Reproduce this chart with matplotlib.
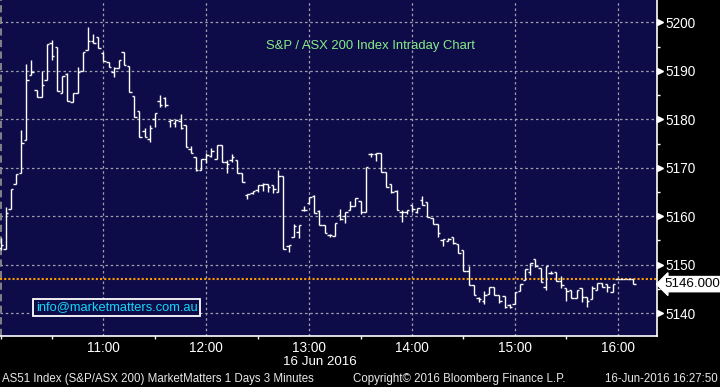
import numpy as np
import matplotlib
matplotlib.use("Agg")
import matplotlib.pyplot as plt
from matplotlib.ticker import MultipleLocator

# 3-minute OHLC bars for AS51, 16 Jun 2016, starting 10:00
opens = [5153.5, 5153.2, 5161.4, 5166.6, 5168.9, 5175.7, 5189.1, 5186.0, 5184.6, 5188.0,
         5195.7, 5195.0, 5185.5, 5189.3, 5183.6, 5185.4, 5190.0, 5194.3, 5196.2, 5196.9,
         5193.6, 5191.8, 5189.8, 5190.5, 5193.8, 5190.9, 5184.9, 5181.8, 5177.6, 5175.9,
         5180.0, 5183.8, 5184.4, 5179.6, 5179.2, 5179.6, 5178.8, 5173.8, 5172.2, 5169.5,
         5171.9, 5172.4, 5171.8, 5174.7, 5171.1, 5171.5, 5171.6, 5168.9, 5164.3, 5164.8,
         5165.5, 5166.4, 5166.7, 5166.5, 5164.9, 5168.2, 5153.9, 5155.8, 5156.8, 5161.3,
         5162.8, 5164.2, 5161.0, 5158.2, 5156.1, 5156.0, 5160.3, 5160.0, 5161.3, 5162.1,
         5163.2, 5160.9, 5172.9, 5172.9, 5173.1, 5169.1, 5166.6, 5165.3, 5160.9, 5160.8,
         5162.3, 5160.9, 5163.3, 5162.9, 5159.6, 5158.4, 5155.0, 5154.9, 5155.7, 5154.3,
         5153.0, 5148.7, 5145.8, 5143.2, 5142.6, 5144.0, 5145.4, 5143.8, 5143.6, 5141.6,
         5141.9, 5144.6, 5146.9, 5148.4, 5151.1, 5149.3, 5145.4, 5148.3, 5148.4, 5146.7,
         5145.2, 5144.7, 5143.1, 5145.2, 5143.3, 5142.9, 5144.7, 5146.2, 5146.0, 5144.3,
         5147.0, 5147.0, 5147.0, 5147.0]
highs = [5155.5, 5161.9, 5165.6, 5168.7, 5177.8, 5191.5, 5192.2, 5186.0, 5190.0, 5195.5,
         5196.4, 5195.0, 5188.9, 5189.5, 5185.4, 5190.7, 5193.9, 5199.1, 5197.6, 5196.9,
         5193.8, 5191.8, 5190.7, 5192.2, 5193.8, 5190.9, 5184.9, 5181.8, 5178.1, 5178.8,
         5181.2, 5185.0, 5184.5, 5179.9, 5179.9, 5181.0, 5178.8, 5174.5, 5172.2, 5171.8,
         5173.0, 5174.1, 5174.7, 5174.7, 5171.5, 5172.8, 5171.6, 5168.9, 5164.5, 5165.3,
         5166.4, 5166.9, 5166.7, 5166.5, 5169.5, 5168.2, 5154.1, 5158.4, 5158.2, 5162.1,
         5164.0, 5164.4, 5161.3, 5158.2, 5156.3, 5158.6, 5161.4, 5160.9, 5163.2, 5163.7,
         5163.2, 5170.1, 5173.0, 5173.1, 5173.1, 5169.1, 5166.6, 5165.4, 5161.2, 5161.2,
         5162.3, 5161.6, 5164.2, 5162.9, 5159.6, 5158.4, 5155.3, 5155.5, 5155.7, 5154.3,
         5153.0, 5149.8, 5145.8, 5143.4, 5144.5, 5145.4, 5145.4, 5143.8, 5143.6, 5141.8,
         5144.4, 5146.0, 5149.1, 5150.4, 5151.1, 5149.3, 5149.8, 5148.8, 5148.4, 5147.7,
         5145.2, 5144.7, 5144.7, 5145.2, 5143.3, 5145.6, 5146.2, 5146.2, 5146.0, 5146.0,
         5147.0, 5147.0, 5147.0, 5147.0]
lows = [5153.0, 5153.2, 5161.4, 5166.6, 5168.9, 5175.7, 5189.1, 5184.5, 5184.6, 5188.0,
        5192.2, 5185.9, 5185.5, 5183.8, 5183.6, 5185.4, 5190.0, 5194.3, 5195.8, 5194.6,
        5192.1, 5190.7, 5188.8, 5190.5, 5191.1, 5185.6, 5180.5, 5176.3, 5176.4, 5175.4,
        5178.5, 5182.6, 5182.6, 5178.5, 5178.4, 5177.9, 5174.2, 5173.0, 5169.4, 5169.5,
        5170.9, 5172.3, 5171.8, 5171.1, 5169.0, 5171.1, 5169.0, 5167.1, 5163.6, 5164.6,
        5165.1, 5165.3, 5164.9, 5164.7, 5164.9, 5153.3, 5152.6, 5155.8, 5155.5, 5161.0,
        5162.8, 5160.7, 5158.2, 5156.5, 5155.8, 5156.0, 5159.2, 5158.6, 5161.3, 5162.1,
        5160.5, 5160.9, 5172.2, 5171.3, 5169.1, 5166.1, 5164.7, 5161.2, 5158.9, 5160.5,
        5160.9, 5160.6, 5162.3, 5159.9, 5158.4, 5155.8, 5153.9, 5154.8, 5154.3, 5152.5,
        5148.7, 5145.8, 5143.8, 5142.4, 5141.9, 5144.0, 5143.8, 5142.2, 5141.0, 5141.0,
        5141.9, 5144.5, 5146.9, 5147.9, 5149.5, 5146.4, 5144.8, 5148.1, 5146.7, 5145.2,
        5142.6, 5143.1, 5143.1, 5142.4, 5141.3, 5142.9, 5144.7, 5145.4, 5144.3, 5144.3,
        5147.0, 5147.0, 5147.0, 5146.0]
closes = [5154.0, 5160.7, 5165.6, 5168.7, 5175.1, 5188.1, 5189.7, 5184.5, 5187.0, 5195.5,
          5193.1, 5185.9, 5188.9, 5183.8, 5185.4, 5189.8, 5193.9, 5196.2, 5195.8, 5194.6,
          5192.1, 5190.7, 5190.5, 5192.2, 5191.1, 5185.6, 5180.5, 5176.3, 5176.4, 5178.3,
          5181.2, 5182.9, 5182.9, 5179.9, 5179.9, 5178.1, 5174.2, 5173.0, 5169.5, 5171.8,
          5172.6, 5173.5, 5174.7, 5171.1, 5170.7, 5172.2, 5169.0, 5167.1, 5164.5, 5165.2,
          5166.4, 5166.7, 5166.1, 5165.6, 5168.2, 5153.3, 5154.0, 5157.9, 5158.2, 5161.3,
          5164.0, 5160.7, 5158.2, 5156.5, 5156.1, 5158.6, 5159.5, 5160.9, 5162.1, 5163.7,
          5160.9, 5170.1, 5172.9, 5173.1, 5169.1, 5166.1, 5165.1, 5161.2, 5160.9, 5161.2,
          5161.5, 5161.6, 5162.3, 5159.9, 5158.4, 5156.5, 5155.3, 5155.4, 5154.4, 5152.5,
          5148.7, 5145.8, 5143.8, 5142.9, 5143.8, 5145.4, 5143.8, 5142.5, 5141.2, 5141.2,
          5144.4, 5146.0, 5149.1, 5150.4, 5149.7, 5146.4, 5149.8, 5148.3, 5146.7, 5145.8,
          5144.6, 5143.1, 5144.7, 5143.3, 5142.6, 5145.2, 5146.2, 5145.4, 5145.4, 5146.0,
          5147.0, 5147.0, 5147.0, 5146.0]

bar_minutes = 3
hour_pos = [60, 120, 180, 240, 300, 360]   # minutes after 10:00
hour_labels = ["11:00", "12:00", "13:00", "14:00", "15:00", "16:00"]
price_ticks = [5140, 5150, 5160, 5170, 5180, 5190, 5200]
last_price = 5146.0
ref_level = 5147.0

bg = "#0e0c48"
plt.rcParams["font.family"] = "Liberation Sans"

t = np.arange(len(opens)) * bar_minutes
tick = 1.46  # width of open/close ticks in minutes

fig = plt.figure(figsize=(7.2, 3.87), dpi=100, facecolor="black")
ax = fig.add_axes([0.0, 1 - 336 / 387, 656.7 / 720, 336 / 387])
ax.set_facecolor(bg)

# grid
for y in price_ticks:
    ax.axhline(y, color="#a0a0aa", lw=0.9, dashes=(2, 2.2), zorder=1)
for x in hour_pos:
    ax.axvline(x, color="#a0a0aa", lw=0.9, dashes=(2, 2.2), zorder=1)
ax.axvline(0, color="#8c8c8c", lw=1.3, dashes=(4, 2.4), zorder=1)
ax.axhline(ref_level, color="#ff9900", lw=1.5, dashes=(1, 1), zorder=2)

# OHLC bars
ax.vlines(t, lows, highs, color="white", lw=1.0, zorder=3)
ax.hlines(opens, t - tick, t, color="white", lw=1.0, zorder=3)
ax.hlines(closes, t, t + tick, color="white", lw=1.0, zorder=3)

ax.set_xlim(-0.3, 382.7)
ax.set_ylim(5135.3, 5204.6)

for s in ["left", "top"]:
    ax.spines[s].set_visible(False)
for s in ["bottom", "right"]:
    ax.spines[s].set_color("white")
    ax.spines[s].set_linewidth(1.2)

ax.yaxis.tick_right()
ax.set_yticks(price_ticks)
ax.set_yticklabels([str(p) for p in price_ticks])
ax.yaxis.set_minor_locator(MultipleLocator(5))
ax.tick_params(axis="y", which="major", length=0, pad=6.5, labelcolor="white", labelsize=9.8)
ax.tick_params(axis="y", which="minor", length=2.4, width=1, color="white", direction="out")
ax.plot(np.full(len(price_ticks), 1.005), price_ticks, transform=ax.get_yaxis_transform(),
        marker=">", ms=5, color="white", ls="none", clip_on=False)

ax.set_xticks(hour_pos)
ax.set_xticklabels(hour_labels)
ax.xaxis.set_minor_locator(MultipleLocator(30))
ax.tick_params(axis="x", which="major", length=0, pad=3.5, labelcolor="white", labelsize=9.8)
ax.tick_params(axis="x", which="minor", length=2.4, width=1, color="white", direction="out")

ax.text(1.012, last_price, "5146.000", transform=ax.get_yaxis_transform(), ha="left",
        va="center", color="black", fontsize=9.6, clip_on=False,
        bbox=dict(boxstyle="larrow,pad=0.12", fc="white", ec="white"))

ax.text(0.5634, 0.863, "S&P / ASX 200 Index Intraday Chart", transform=ax.transAxes,
        ha="center", va="center", color="#86ec86", fontsize=9.4)
ax.text(0.1777, 0.0848, "info@marketmatters.com.au", transform=ax.transAxes,
        ha="center", va="center", color="#10d8f8", fontsize=9.3,
        bbox=dict(boxstyle="square,pad=0.22", fc=bg, ec="white", lw=1.3))

fig.text(319.5 / 720, 1 - 362.3 / 387, "16 Jun 2016", ha="center", va="center",
         color="white", fontsize=9.6)
fig.text(2 / 720, 1 - 379 / 387, "AS51 Index (S&P/ASX 200) MarketMatters 1 Days 3 Minutes",
         ha="left", va="center", color="#e8e8e8", fontsize=8.3)
fig.text(353 / 720, 1 - 379 / 387, "Copyright\u00a9 2016 Bloomberg Finance L.P.",
         ha="left", va="center", color="#e8e8e8", fontsize=8.3)
fig.text(718 / 720, 1 - 379 / 387, "16-Jun-2016 16:27:50",
         ha="right", va="center", color="#e8e8e8", fontsize=8.3)

fig.savefig("out.png", dpi=100, facecolor="black")
